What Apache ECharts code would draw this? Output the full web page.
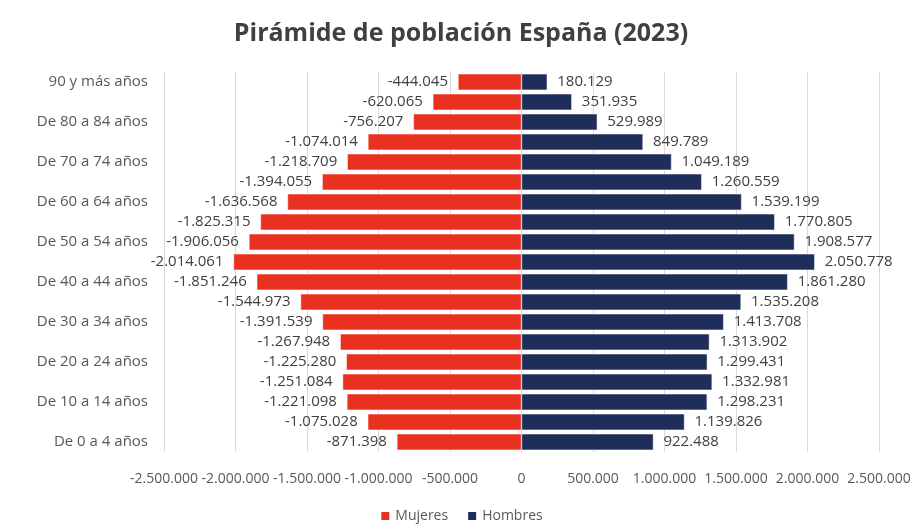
<!DOCTYPE html>
<html>
<head>
<meta charset="utf-8">
<script src="https://cdn.jsdelivr.net/npm/echarts@6/dist/echarts.min.js"></script>
<style>html,body{margin:0;padding:0;background:#fff}#c{width:922px;height:528px}</style>
</head>
<body>
<div id="c"></div>
<script>
// Categories from bottom (youngest) to top (oldest)
const categories = ["De 0 a 4 años","De 5 a 9 años","De 10 a 14 años","De 15 a 19 años","De 20 a 24 años","De 25 a 29 años","De 30 a 34 años","De 35 a 39 años","De 40 a 44 años","De 45 a 49 años","De 50 a 54 años","De 55 a 59 años","De 60 a 64 años","De 65 a 69 años","De 70 a 74 años","De 75 a 79 años","De 80 a 84 años","De 85 a 89 años","90 y más años"];
const mujeres = [-871398,-1075028,-1221098,-1251084,-1225280,-1267948,-1391539,-1544973,-1851246,-2014061,-1906056,-1825315,-1636568,-1394055,-1218709,-1074014,-756207,-620065,-444045];
const hombres = [922488,1139826,1298231,1332981,1299431,1313902,1413708,1535208,1861280,2050778,1908577,1770805,1539199,1260559,1049189,849789,529989,351935,180129];
const xTicks = [-2500000,-2000000,-1500000,-1000000,-500000,0,500000,1000000,1500000,2000000,2500000];

function fmt(v){
  const neg = v < 0;
  const s = Math.abs(Math.round(v)).toString().replace(/\B(?=(\d{3})+(?!\d))/g, ".");
  return (neg ? "-" : "") + s;
}
const font = "'Open Sans', 'Noto Sans', sans-serif";
const chart = echarts.init(document.getElementById('c'));
chart.setOption({
  animation: false,
  title: {
    text: 'Pirámide de población España (2023)',
    left: 'center', top: 16,
    textStyle: {fontFamily: font, fontSize: 25, fontWeight: 'bold', color: '#404040'}
  },
  legend: {
    bottom: 0, left: 'center',
    itemWidth: 10, itemHeight: 10, itemGap: 18,
    icon: 'rect',
    textStyle: {fontFamily: font, fontSize: 14, color: '#595959'},
    data: ['Mujeres','Hombres']
  },
  grid: {left: 164, right: 43, top: 72, bottom: 76, containLabel: false},
  xAxis: {
    type: 'value', min: xTicks[0], max: xTicks[xTicks.length - 1], interval: 500000,
    axisLine: {show: false}, axisTick: {show: false},
    splitLine: {show: true, lineStyle: {color: '#d9d9d9', width: 1}},
    axisLabel: {fontFamily: font, fontSize: 14, color: '#595959', margin: 20,
      formatter: v => fmt(v), hideOverlap: false}
  },
  yAxis: {
    type: 'category', data: categories,
    axisLine: {show: false, onZero: false}, axisTick: {show: false},
    axisLabel: {interval: 1, fontFamily: font, fontSize: 15, color: '#595959', margin: 16}
  },
  series: [
    {
      name: 'Mujeres', type: 'bar', stack: 'p', data: mujeres,
      barCategoryGap: '18%',
      itemStyle: {color: '#e8321f', borderColor: '#ffffff', borderWidth: 0.5},
      label: {show: true, position: 'left', distance: 10, formatter: p => fmt(p.value),
        fontFamily: font, fontSize: 15, color: '#404040'}
    },
    {
      name: 'Hombres', type: 'bar', stack: 'p', data: hombres,
      barCategoryGap: '18%',
      itemStyle: {color: '#1f2d5b', borderColor: '#ffffff', borderWidth: 0.5},
      label: {show: true, position: 'right', distance: 10, formatter: p => fmt(p.value),
        fontFamily: font, fontSize: 15, color: '#404040'}
    }
  ]
});
</script>
</body>
</html>
